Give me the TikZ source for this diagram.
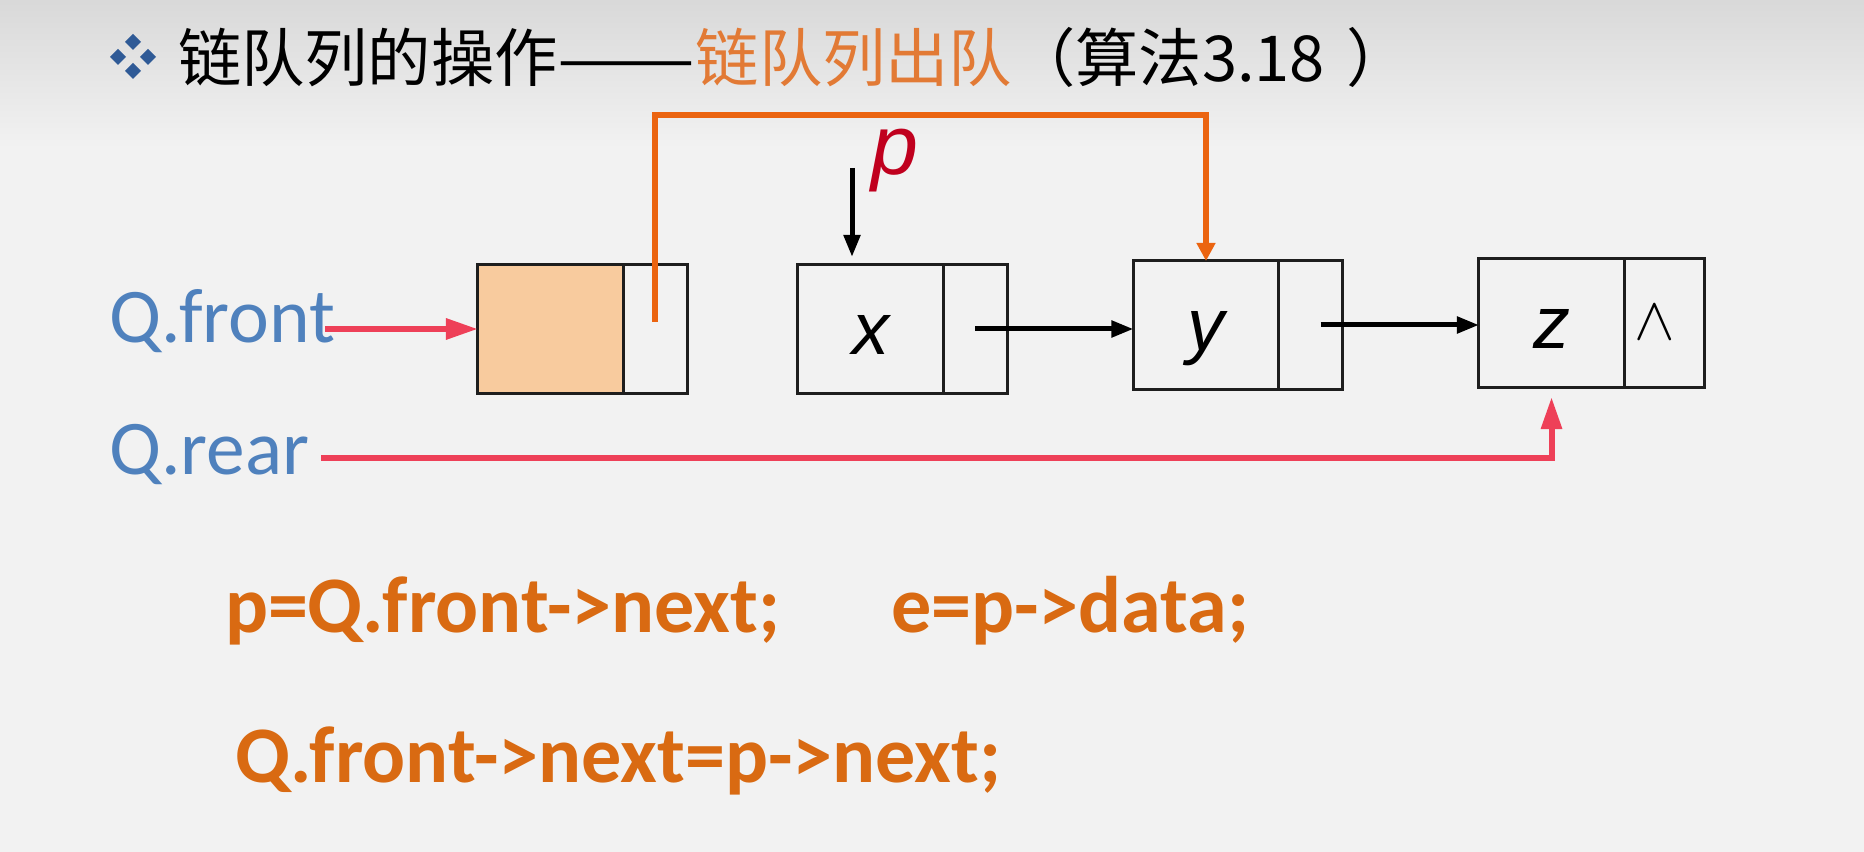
\documentclass[tikz,border=0pt]{standalone}
\usepackage{fontspec}
\setmainfont{Carlito}
\newfontfamily\cjk{Noto Sans CJK SC}
\newfontfamily\ital{Liberation Sans}
\usetikzlibrary{arrows.meta}
\definecolor{qblue}{HTML}{4F81BD}
\definecolor{qred}{HTML}{EE4058}
\definecolor{lnorange}{HTML}{EB6410}
\definecolor{ttlorange}{HTML}{E27A35}
\definecolor{codeorange}{HTML}{D96A12}
\definecolor{pred}{HTML}{C0001E}
\definecolor{peach}{HTML}{F8CB9E}
\definecolor{bullet}{HTML}{2F5A96}
\definecolor{boxline}{HTML}{1E1E1E}
\begin{document}
\begin{tikzpicture}[x=0.01cm,y=-0.01cm,inner sep=0pt,outer sep=0pt,
datacell/.style={draw=boxline,rectangle,line width=0.03cm,minimum width=1.45cm,minimum height=1.28cm,text height=0.5cm,text depth=0cm,font=\ital\itshape\fontsize{21}{22}\selectfont},
nextcell/.style={draw=boxline,rectangle,line width=0.03cm,minimum width=0.64cm,minimum height=1.28cm},
ptr/.style={-{Triangle[length=0.22cm,width=0.16cm]},line width=0.05cm},
qptr/.style={-{Triangle[length=0.32cm,width=0.2cm]},line width=0.06cm,draw=qred},
optr/.style={-{Triangle[length=0.18cm,width=0.18cm]},line width=0.055cm,draw=lnorange},
qlabel/.style={anchor=base west,text=qblue,font=\fontsize{22}{24}\selectfont},
code/.style={anchor=base west,text=codeorange,font=\bfseries\fontsize{22.8}{24}\selectfont}]
% background
\fill[color=black!5] (0,0) rectangle (1864,852);
\shade[top color=black!15,bottom color=black!5] (0,0) rectangle (1864,150);
% title
\foreach \dx/\dy in {0/-15,-15/0,15/0,0/14}
  \fill[bullet] (133+\dx,57+\dy) ++(-8,0) -- ++(8,-8) -- ++(8,8) -- ++(-8,8) -- cycle;
\draw (178,82) node[anchor=base west,font=\cjk\fontsize{18}{20}\selectfont] (title) {链队列的操作\scalebox{1.3}[1]{——}\textcolor{ttlorange}{链队列出队}（算法3.18\,\,）};
% list nodes
\draw (550.5,329) node[datacell,fill=peach] (head) {};
\draw (head.east) node[nextcell,anchor=west] (headnext) {};
\draw (870.5,329) node[datacell] (nx) {x};
\draw (nx.east) node[nextcell,anchor=west] (nxnext) {};
\draw (1206,325) node[datacell] (ny) {y};
\draw (ny.east) node[nextcell,anchor=west] (nynext) {};
\draw (1551.5,323) node[datacell] (nz) {z};
\draw (nz.east) node[nextcell,anchor=west,minimum width=0.8cm] (nznext) {};
\draw ([xshift=-0.09cm]nznext.center) node[font=\fontsize{19}{20}\selectfont] (nil) {$\wedge$};
% labels
\draw (109,343) node[qlabel] (qf) {Q.front};
\draw (109,475) node[qlabel] (qr) {Q.rear};
\draw (895,175) node[anchor=base,text=pred,font=\ital\itshape\fontsize{24}{24}\selectfont] (pl) {p};
% pointers
\coordinate (fs) at (325,329);
\coordinate (rs) at (321,458);
\coordinate (ps) at (852,168);
\coordinate (os) at (655,322);
\draw[qptr] (fs) -- (head.west);
\draw[qptr,shorten >=0.1cm] (rs) -| (nz.south);
\draw[ptr,shorten >=0.08cm] (ps) -- (ps |- nx.north);
\draw[optr] (os) -- ++(0,-207) -| (ny.north);
\draw[ptr] (nxnext.center) -- (nxnext.center -| ny.west);
\draw[ptr] ([xshift=0.1cm]nynext.center) -- (nynext.center -| nz.west);
% code
\draw (225,632) node[code] (c1) {p=Q.front->next;};
\draw (891,632) node[code] (c2) {e=p->data;};
\draw (235,782) node[code] (c3) {Q.front->next=p->next;};
\end{tikzpicture}
\end{document}
